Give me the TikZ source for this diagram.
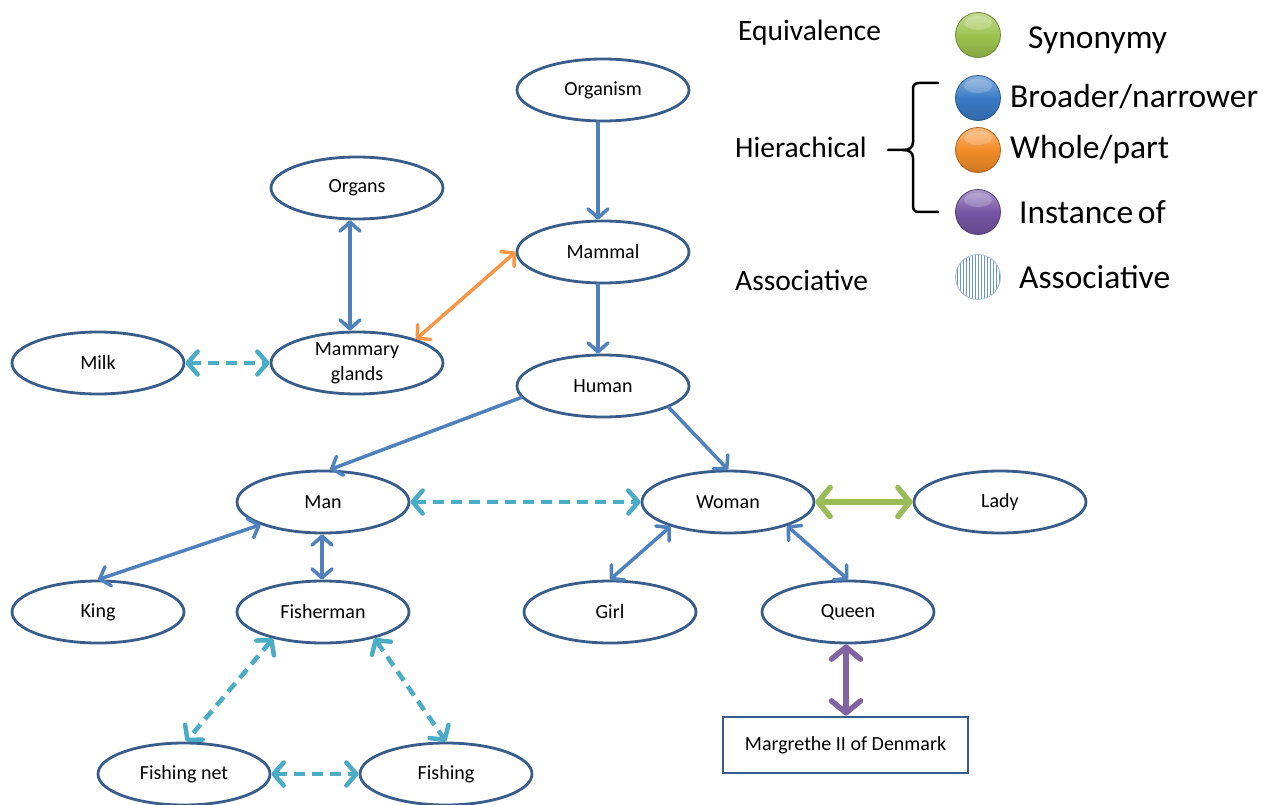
\documentclass[tikz,border=0pt]{standalone}
\usepackage{fontspec}
\setmainfont{Carlito}
\usetikzlibrary{shapes.geometric,arrows.meta}

\definecolor{rimblue}{HTML}{385D8A}
\definecolor{hierblue}{HTML}{4F81BD}
\definecolor{assoccyan}{HTML}{4BACC6}
\definecolor{wholeorange}{HTML}{F79646}
\definecolor{synongreen}{HTML}{9BBB59}
\definecolor{instpurple}{HTML}{8064A2}
\definecolor{ballgreen}{HTML}{9DC34E}
\definecolor{ballblue}{HTML}{3A7BC6}
\definecolor{ballorange}{HTML}{F28C28}
\definecolor{ballpurple}{HTML}{7654A4}

\newcommand{\legendball}[3]{%
  \shade[top color=#3!60!white, bottom color=#3!85!black, middle color=#3]
    (#1,#2) circle[radius=22.5pt];
  \fill[white, opacity=0.2] (#1,#2-12) ellipse[x radius=14pt, y radius=7pt];
  \draw[#3!70!black, line width=0.8pt] (#1,#2) circle[radius=22.5pt];
}

\begin{document}
\begin{tikzpicture}[x=1pt, y=-1pt,
  concept/.style={ellipse, draw=rimblue, line width=2.8pt, fill=white,
    minimum width=172pt, minimum height=62pt, inner sep=0pt,
    font=\fontsize{20}{25}\selectfont, align=center},
  instbox/.style={rectangle, draw=rimblue, line width=2.8pt, fill=white,
    minimum width=245pt, minimum height=56pt, inner sep=0pt,
    font=\fontsize{20}{25}\selectfont},
  hier/.style={draw=hierblue, line width=3.5pt, line cap=round,
    >={Straight Barb[length=9pt, width=20pt, line join=round, line cap=round]}},
  whole/.style={draw=wholeorange, line width=3.5pt, line cap=round,
    >={Straight Barb[length=9pt, width=20pt, line join=round, line cap=round]}},
  assoc/.style={draw=assoccyan, line width=4.5pt, dash pattern=on 11pt off 7pt,
    >={Straight Barb[length=10pt, width=23pt, line join=round, line cap=round]}},
  synon/.style={draw=synongreen, line width=5.5pt,
    >={Straight Barb[length=12pt, width=29pt, line join=round, line cap=round]}},
  inst/.style={draw=instpurple, line width=5.5pt,
    >={Straight Barb[length=12pt, width=29pt, line join=round, line cap=round]}},
  legleft/.style={anchor=west, inner sep=0pt, font=\fontsize{29.5}{34}\selectfont},
  legright/.style={anchor=west, inner sep=0pt, font=\fontsize{33.5}{38}\selectfont},
]
\useasboundingbox (0,0) rectangle (1277,805);
\fill[white] (0,0) rectangle (1277,805);

% concepts
\node[concept] (organism) at (603,90)  {Organism};
\node[concept] (organs)   at (357,188) {Organs};
\node[concept] (mammal)   at (603,252) {Mammal};
\node[concept] (glands)   at (357,363) {Mammary\\glands};
\node[concept] (milk)     at (98,363)  {Milk};
\node[concept] (human)    at (603,386) {Human};
\node[concept] (man)      at (323,502) {Man};
\node[concept] (woman)    at (728,502) {Woman};
\node[concept] (lady)     at (1000,502) {Lady};
\node[concept] (king)     at (98,612)  {King};
\node[concept] (fisherman) at (323,612) {Fisherman};
\node[concept] (girl)     at (610,612) {Girl};
\node[concept] (queen)    at (848,612) {Queen};
\node[concept] (net)      at (184,774) {Fishing net};
\node[concept] (fishing)  at (446,774) {Fishing};
\node[instbox] (margrethe) at (845.5,745) {Margrethe II of Denmark};

% broader / narrower
\draw[hier,->] ([xshift=-5pt]organism.south) -- ([xshift=-5pt]mammal.north);
\draw[hier,->] ([xshift=-5pt]mammal.south) -- ([xshift=-5pt]human.north);
\draw[hier,<->] ([xshift=-7pt]organs.south) -- ([xshift=-7pt]glands.north);
\draw[hier,->] (human.188) -- ([xshift=7pt]man.north);
\draw[hier,->] (human.-18) -- (woman.north);
\draw[hier,<->] (man.200) -- (king.north);
\draw[hier,<->] ([xshift=-1pt]man.south) -- ([xshift=-1pt]fisherman.north);
\draw[hier,<->] (woman.-157) -- (girl.north);
\draw[hier,<->] (woman.-22) -- (queen.north);

% whole / part
\draw[whole,<->] (mammal.west) -- (glands.22);

% synonymy
\draw[synon,<->] (woman.east) -- (lady.west);

% instance of
\draw[inst,<->] ([xshift=-2pt]queen.south) -- ([xshift=-2pt]queen.south |- margrethe.north);

% associative
\draw[assoc,<->] (milk.east) -- (glands.west);
\draw[assoc,<->] (man.east) -- (woman.west);
\draw[assoc,<->] (fisherman.-152) -- ([xshift=2pt]net.north);
\draw[assoc,<->] (fisherman.-27) -- (fishing.north);
\draw[assoc,<->] (net.east) -- (fishing.west);

% legend
\node[legleft] (equiv) at (738,33) {Equivalence};
\node[legleft] (hierlab) at (735,147) {Hierachical};
\node[legleft] (assoclab) at (735,280) {Associative};

\draw[line width=2.5pt, line cap=round, line join=round]
  (938,83) -- (919,83) .. controls (915,83) and (913,85) .. (913,89)
  -- (913,142) .. controls (913,148) and (909,150) .. (903,150) -- (888,150);
\draw[line width=2.5pt, line cap=round, line join=round]
  (903,150) .. controls (909,150) and (913,152) .. (913,158)
  -- (913,206) .. controls (913,210) and (915,212) .. (919,212) -- (938,212);

\legendball{978}{35}{ballgreen}
\legendball{978}{98}{ballblue}
\legendball{978}{150}{ballorange}
\legendball{978}{212}{ballpurple}

\begin{scope}
  \clip (978,277) circle[radius=22.5pt];
  \fill[white] (950,250) rectangle (1006,305);
  \foreach \sx in {954.5,957.5,...,1002} {
    \draw[hierblue!85!white, line width=1.4pt] (\sx,250) -- (\sx,305);
  }
\end{scope}
\draw[hierblue!50!white, line width=0.8pt] (978,277) circle[radius=22.5pt];

\node[legright] (synlab) at (1028,40) {Synonymy};
\node[legright] (broadlab) at (1010,97) {Broader/narrower};
\node[legright] (wholelab) at (1010,150) {Whole/part};
\node[legright] (instlab) at (1019,212) {Instance\hspace{0.14em}of};
\node[legright] (assoclab2) at (1019,277) {Associative};
\end{tikzpicture}
\end{document}
